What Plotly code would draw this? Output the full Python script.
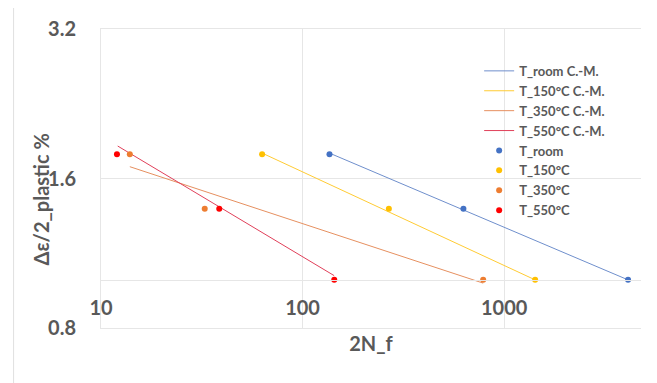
import math
import plotly.graph_objects as go

# ---- data ----
series_names = ["T_room", "T_150°C", "T_350°C", "T_550°C"]
series_colors = ["#4472C4", "#FFC000", "#ED7D31", "#FF0000"]
fit_colors = ["#6F8FCC", "#FFCB33", "#E69060", "#E0405A"]

# measured points (2N_f, plastic strain amplitude %)
n_room = [136, 628, 4118]
e_room = [1.79, 1.39, 1.0]
n_150 = [63, 268, 1425]
e_150 = [1.79, 1.39, 1.0]
n_350 = [13.9, 32.7, 787]
e_350 = [1.79, 1.39, 1.0]
n_550 = [12.0, 38.6, 143.6]
e_550 = [1.79, 1.39, 1.0]

# Coffin-Manson fit lines (end points)
fit_n_room = [136, 4118]
fit_e_room = [1.80, 1.00]
fit_n_150 = [63, 1425]
fit_e_150 = [1.80, 1.00]
fit_n_350 = [13.9, 787]
fit_e_350 = [1.69, 0.985]
fit_n_550 = [12.1, 143.4]
fit_e_550 = [1.86, 1.02]

x_ticks = [10, 100, 1000]
x_ticktext = ["10", "100", "1000"]
y_ticks = [0.8, 1.6, 3.2]
y_ticktext = ["0.8", "1.6", "3.2"]
x_range = [1.0, 3.679]
y_min, y_max = 0.8, 3.2

points_n = [n_room, n_150, n_350, n_550]
points_e = [e_room, e_150, e_350, e_550]
fits_n = [fit_n_room, fit_n_150, fit_n_350, fit_n_550]
fits_e = [fit_e_room, fit_e_150, fit_e_350, fit_e_550]

FONT = "Lato, Carlito, 'Open Sans', sans-serif"
TXT = "#595959"
GRID = "#E6E6E6"

# page offset (body margin) and plot area in screen pixels
OFF = 8
W, H = 657, 383
PL, PR, PT, PB = 100.5, 641, 28.5, 328.5
PW, PH = PR - PL, PB - PT


def px_x(sx):
    return (sx - PL) / PW


def px_y(sy):
    return (PB - sy) / PH


fig = go.Figure()

for name, col, xs, ys in zip(series_names, fit_colors, fits_n, fits_e):
    fig.add_trace(go.Scatter(
        x=xs, y=ys, mode="lines", name=name + " C.-M.",
        line=dict(color=col, width=1), xaxis="x", yaxis="y"))

for name, col, xs, ys in zip(series_names, series_colors, points_n, points_e):
    fig.add_trace(go.Scatter(
        x=xs, y=ys, mode="markers", name=name,
        marker=dict(color=col, size=6), xaxis="x2", yaxis="y"))

ylog = [math.log10(y_min), math.log10(y_max)]
cross_pos = (0 - ylog[0]) / (ylog[1] - ylog[0])

fig.update_layout(
    width=W, height=H,
    margin=dict(l=PL - OFF, r=W - (PR - OFF), t=PT - OFF, b=H - (PB - OFF),
                autoexpand=False),
    paper_bgcolor="white", plot_bgcolor="white",
    font=dict(family=FONT, color=TXT),
    showlegend=True,
    legend=dict(
        x=px_x(479), xanchor="left",
        y=px_y(55.5), yanchor="top",
        bgcolor="rgba(0,0,0,0)",
        font=dict(family=FONT, size=13, color=TXT, weight="bold"),
        itemwidth=30, tracegroupgap=0,
    ),
    xaxis=dict(
        type="log", range=x_range, tickvals=x_ticks, showticklabels=False,
        showgrid=True, gridcolor=GRID, gridwidth=1, zeroline=False,
        showline=True, linecolor=GRID, linewidth=1, mirror=True,
        ticks="", automargin=False,
        title=dict(text="2N_f", standoff=8,
                   font=dict(family=FONT, size=20, color=TXT, weight="bold")),
    ),
    xaxis2=dict(
        type="log", range=x_range, overlaying="x", anchor="free", position=cross_pos,
        side="bottom", showgrid=False, zeroline=False,
        showline=True, linecolor=GRID, linewidth=1,
        tickvals=x_ticks, ticktext=x_ticktext, ticks="",
        ticklabelstandoff=10, automargin=False,
        tickfont=dict(family=FONT, size=20, color=TXT, weight="bold"),
    ),
    yaxis=dict(
        type="log", range=ylog, tickvals=y_ticks, ticktext=y_ticktext,
        showgrid=True, gridcolor=GRID, gridwidth=1, zeroline=False,
        showline=True, linecolor=GRID, linewidth=1,
        ticks="", ticklabelstandoff=20, automargin=False,
        tickfont=dict(family=FONT, size=20, color=TXT, weight="bold"),
    ),
    annotations=[dict(
        text="Δε/2_plastic %", textangle=-90,
        xref="paper", yref="paper",
        x=px_x(40), y=px_y(200),
        xanchor="center", yanchor="middle", showarrow=False,
        font=dict(family=FONT, size=20, color=TXT, weight="bold"),
    )],
    shapes=[dict(
        type="rect", xref="paper", yref="paper",
        x0=px_x(13), x1=1.2, y0=-0.5, y1=px_y(5),
        line=dict(color="#E0E0E0", width=1), layer="below",
    )],
)

fig.write_html("out.html")
